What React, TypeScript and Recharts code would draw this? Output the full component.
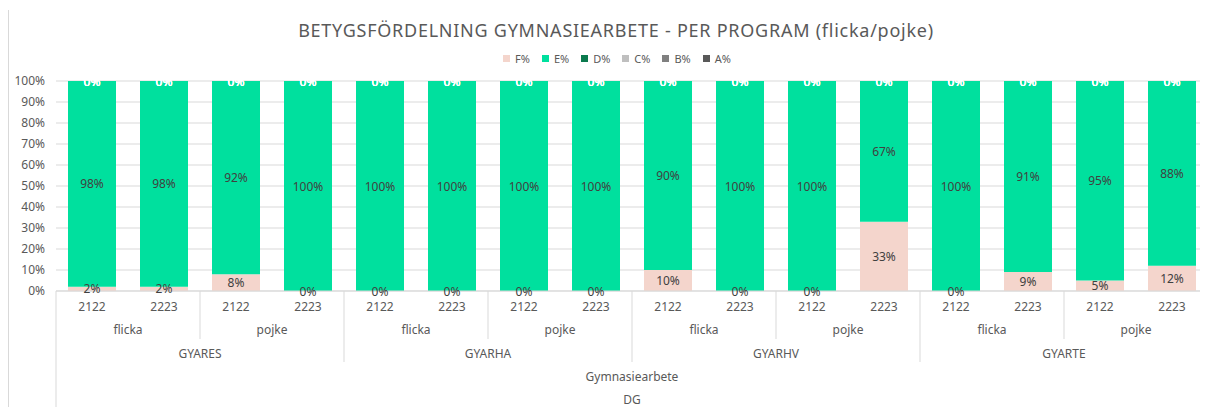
import React from "react";
import { BarChart, Bar, XAxis, YAxis, CartesianGrid, LabelList } from "recharts";

const programs = ["GYARES", "GYARHA", "GYARHV", "GYARTE"];
const genders = ["flicka", "pojke"];
const years = ["2122", "2223"];
const level4 = "Gymnasiearbete";
const level5 = "DG";

// per bar, in order program > gender > year
const fValues = [2, 2, 8, 0, 0, 0, 0, 0, 10, 0, 0, 33, 0, 9, 5, 12];
const eValues = [98, 98, 92, 100, 100, 100, 100, 100, 90, 100, 100, 67, 100, 91, 95, 88];
const dValues = [0, 0, 0, 0, 0, 0, 0, 0, 0, 0, 0, 0, 0, 0, 0, 0];
const cValues = [0, 0, 0, 0, 0, 0, 0, 0, 0, 0, 0, 0, 0, 0, 0, 0];
const bValues = [0, 0, 0, 0, 0, 0, 0, 0, 0, 0, 0, 0, 0, 0, 0, 0];
const aValues = [0, 0, 0, 0, 0, 0, 0, 0, 0, 0, 0, 0, 0, 0, 0, 0];
const yTicks = [0, 10, 20, 30, 40, 50, 60, 70, 80, 90, 100];

const seriesInfo = [
  { key: "F", name: "F%", color: "#F4D5CC" },
  { key: "E", name: "E%", color: "#00E09E" },
  { key: "D", name: "D%", color: "#0B7A4E" },
  { key: "C", name: "C%", color: "#BFBFBF" },
  { key: "B", name: "B%", color: "#808080" },
  { key: "A", name: "A%", color: "#595959" },
];

const data: any[] = [];
programs.forEach((p, pi) =>
  genders.forEach((g, gi) =>
    years.forEach((yr, yi) => {
      const i = pi * 4 + gi * 2 + yi;
      data.push({
        key: `${p}-${g}-${yr}`,
        year: yr,
        gender: g,
        program: p,
        F: fValues[i],
        E: eValues[i],
        D: dValues[i],
        C: cValues[i],
        B: bValues[i],
        A: aValues[i],
      });
    })
  )
);

const W = 1200;
const H = 399;
const Y_AXIS_W = 48;
const X_AXIS_H = 116;
const MARGIN = { top: 73, right: 0, bottom: 0, left: 0 };
const PLOT_W = W - Y_AXIS_W - MARGIN.left - MARGIN.right;
const BASELINE = H - X_AXIS_H - MARGIN.bottom;
const BAND = PLOT_W / data.length;
const FONT = "'Noto Sans', sans-serif";
const AXIS_COLOR = "#D9D9D9";
const TEXT_COLOR = "#595959";
const LABEL_COLOR = "#404040";

function MultiTick(props: any) {
  const { x, y, index } = props;
  const d = data[index];
  const left = x - BAND / 2;
  const els: any[] = [];
  const t = { textAnchor: "middle" as const, fontSize: 12, fill: TEXT_COLOR, fontFamily: FONT };
  els.push(
    <text key="yr" x={x} y={y + 20} {...t}>
      {d.year}
    </text>
  );
  if (index % 2 === 0) {
    els.push(
      <text key="g" x={x + BAND / 2} y={y + 43} {...t}>
        {d.gender}
      </text>
    );
    let len = 48;
    if (index % 4 === 0) len = 71;
    if (index === 0) len = X_AXIS_H;
    els.push(<line key="sep" x1={left} x2={left} y1={y} y2={y + len} stroke={AXIS_COLOR} strokeWidth={1} />);
  }
  if (index % 4 === 0) {
    els.push(
      <text key="p" x={x + BAND * 1.5} y={y + 67} {...t}>
        {d.program}
      </text>
    );
  }
  if (index === 0) {
    const cx = left + PLOT_W / 2;
    els.push(
      <text key="l4" x={cx} y={y + 90} {...t}>
        {level4}
      </text>
    );
    els.push(
      <text key="l5" x={cx} y={y + 113} {...t}>
        {level5}
      </text>
    );
  }
  return <g>{els}</g>;
}

// All data labels, positioned from the E segment's rectangle (computed by the library's scale)
function StackLabels(props: any) {
  const { index } = props;
  const vb = props.viewBox && props.viewBox.width != null ? props.viewBox : props;
  const x = Number(vb.x);
  const y = Number(vb.y);
  const w = Number(vb.width);
  const h = Number(vb.height);
  if (!isFinite(x) || !isFinite(y)) return null;
  const top = Math.min(y, y + h);
  const bottom = Math.max(y, y + h);
  const cx = x + w / 2;
  const d = data[index];
  const base = { textAnchor: "middle" as const, dominantBaseline: "central" as const, fontSize: 12, fontFamily: FONT };
  return (
    <g>
      {["A", "B", "C", "D"].map((k) => (
        <text key={k} x={cx} y={top} fill="#FFFFFF" {...base}>
          {`${d[k]}%`}
        </text>
      ))}
      <text x={cx} y={(top + bottom) / 2} fill={LABEL_COLOR} {...base}>
        {`${d.E}%`}
      </text>
      <text x={cx} y={(bottom + BASELINE) / 2} fill={LABEL_COLOR} {...base}>
        {`${d.F}%`}
      </text>
    </g>
  );
}

export default function App() {
  return (
    <div style={{ position: "relative", width: W, height: H, fontFamily: FONT }}>
      <div style={{ position: "absolute", left: 0, top: 2, bottom: 0, width: 1, background: AXIS_COLOR }} />
      <div
        style={{
          position: "absolute",
          left: 0,
          width: 1216,
          top: 10,
          textAlign: "center",
          fontSize: 18,
          letterSpacing: 0.75,
          color: TEXT_COLOR,
          whiteSpace: "nowrap",
        }}
      >
        BETYGSFÖRDELNING GYMNASIEARBETE - PER PROGRAM (flicka/pojke)
      </div>
      <div
        style={{
          position: "absolute",
          left: 0,
          width: 1218,
          top: 43,
          display: "flex",
          justifyContent: "center",
          gap: 12,
          fontSize: 11,
          color: TEXT_COLOR,
        }}
      >
        {seriesInfo.map((s) => (
          <div key={s.key} style={{ display: "flex", alignItems: "center", gap: 5 }}>
            <span style={{ display: "inline-block", width: 7, height: 7, background: s.color }} />
            <span>{s.name}</span>
          </div>
        ))}
      </div>
      <BarChart width={W} height={H} data={data} margin={MARGIN} barCategoryGap={12}>
        <CartesianGrid vertical={false} stroke={AXIS_COLOR} />
        <XAxis
          dataKey="key"
          interval={0}
          height={X_AXIS_H}
          tickLine={false}
          tickSize={0}
          tickMargin={0}
          axisLine={{ stroke: AXIS_COLOR }}
          tick={<MultiTick />}
        />
        <YAxis
          width={Y_AXIS_W}
          domain={[0, 100]}
          ticks={yTicks}
          interval={0}
          axisLine={false}
          tickLine={false}
          tickSize={0}
          tickMargin={11}
          tickFormatter={(v: number) => `${v}%`}
          tick={{ fontSize: 12, fill: TEXT_COLOR, fontFamily: FONT }}
          allowDataOverflow
        />
        {seriesInfo.map((s) => (
          <Bar key={s.key} dataKey={s.key} name={s.name} stackId="a" fill={s.color} isAnimationActive={false}>
            {s.key === "E" ? <LabelList dataKey="E" content={<StackLabels />} /> : null}
          </Bar>
        ))}
      </BarChart>
    </div>
  );
}
